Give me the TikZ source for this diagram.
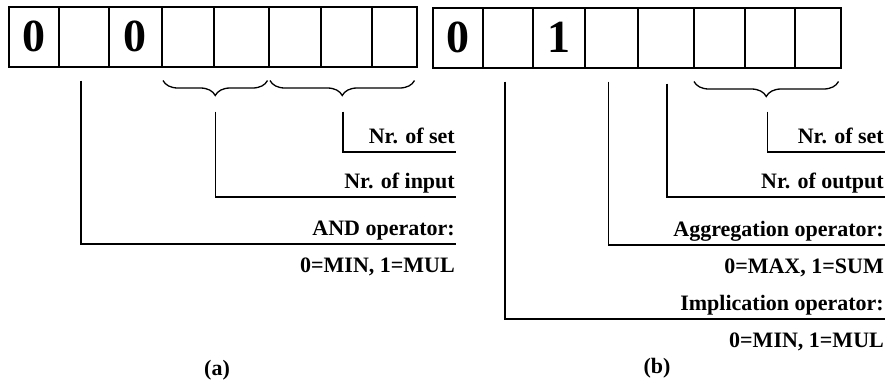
\documentclass[tikz,border=0pt]{standalone}
\usepackage{fontspec}
\setmainfont{Liberation Serif}
\usetikzlibrary{positioning,calc,decorations.pathreplacing}

\begin{document}
\begin{tikzpicture}[
    x=1pt, y=1pt,
    cell/.style={rectangle, draw, line width=1.5pt, minimum height=60pt, inner sep=0pt,
        font=\fontsize{46}{46}\selectfont\bfseries},
    lbl/.style={anchor=south east, inner xsep=1pt, inner ysep=8pt, text height=14pt, text depth=0pt,
        font=\fontsize{22}{22}\selectfont\bfseries},
    sublbl/.style={anchor=north east, inner xsep=1pt, inner ysep=14pt, text height=14pt, text depth=0pt,
        font=\fontsize{22}{22}\selectfont\bfseries},
    capt/.style={font=\fontsize{22}{22}\selectfont\bfseries},
    brc/.style={decorate, decoration={brace, mirror, amplitude=15pt}, line width=1.3pt},
    conn/.style={line width=1.5pt}
]
    \useasboundingbox (0,0) rectangle (887,-381);

    % Cells (a)
    \foreach \l/\r/\t [count=\i] in {8/58/0, 58/108/{}, 108/161/0, 161/213/{}, 213/268/{}, 268/320/{}, 320/371/{}, 371/416/{}}
        \node[cell, minimum width={\r-\l}, anchor=north west] (a\i) at (\l,-6) {\t};

    % Cells (b)
    \foreach \l/\r/\t [count=\i] in {432/482/0, 482/532/{}, 532/584/1, 584/637/{}, 637/693/{}, 693/744/{}, 744/794/{}, 794/840/{}}
        \node[cell, minimum width={\r-\l}, anchor=north west] (b\i) at (\l,-7) {\t};

    % Braces
    \draw[brc] ($(a4.south west)+(2,-13)$) -- ($(a5.south east)+(-2,-13)$);
    \draw[brc] ($(a6.south west)+(2,-13)$) -- ($(a8.south east)+(-3,-13)$);
    \draw[brc] ($(b6.south west)+(1,-13)$) -- ($(b8.south east)+(-3,-13)$);

    % Start points of the connectors
    \coordinate (ta1) at ($(a4.south west)!0.5!(a5.south east)+(0,-44)$);
    \coordinate (ta2) at ($(a6.south west)!0.5!(a8.south east)+(0,-44)$);
    \coordinate (ta3) at ($(a2.south)+(-3,-13)$);
    \coordinate (tb1) at ($(b6.south west)!0.5!(b8.south east)+(0,-43)$);
    \coordinate (tb2) at ($(b5.south)+(1,-15)$);
    \coordinate (tb3) at ($(b4.south)+(-3,-13)$);
    \coordinate (tb4) at ($(b2.south)+(-3,-13)$);

    % Labels (a)
    \node[lbl] (setA) at (456,-152) {Nr. of set};
    \node[lbl] (inA) at (456,-197) {Nr. of input};
    \node[lbl] (andA) at (456,-244) {AND operator:};
    \node[sublbl] (andAv) at (andA.south east) {0=MIN, 1=MUL};

    % Labels (b)
    \node[lbl] (setB) at (885,-152) {Nr. of set};
    \node[lbl] (outB) at (885,-197) {Nr. of output};
    \node[lbl] (aggB) at (885,-245) {Aggregation operator:};
    \node[sublbl] (aggBv) at (aggB.south east) {0=MAX, 1=SUM};
    \node[lbl] (impB) at (885,-319) {Implication operator:};
    \node[sublbl] (impBv) at (impB.south east) {0=MIN, 1=MUL};

    % Connectors
    \draw[conn] (ta2) |- (setA.south east);
    \draw[conn] (ta1) |- (inA.south east);
    \draw[conn] (ta3) |- (andA.south east);
    \draw[conn] (tb1) |- (setB.south east);
    \draw[conn] (tb2) |- (outB.south east);
    \draw[conn] (tb3) |- (aggB.south east);
    \draw[conn] (tb4) |- (impB.south east);

    % Captions
    \node[capt] (captA) at (217,-370) {(a)};
    \node[capt] (captB) at (657,-368) {(b)};
\end{tikzpicture}
\end{document}
